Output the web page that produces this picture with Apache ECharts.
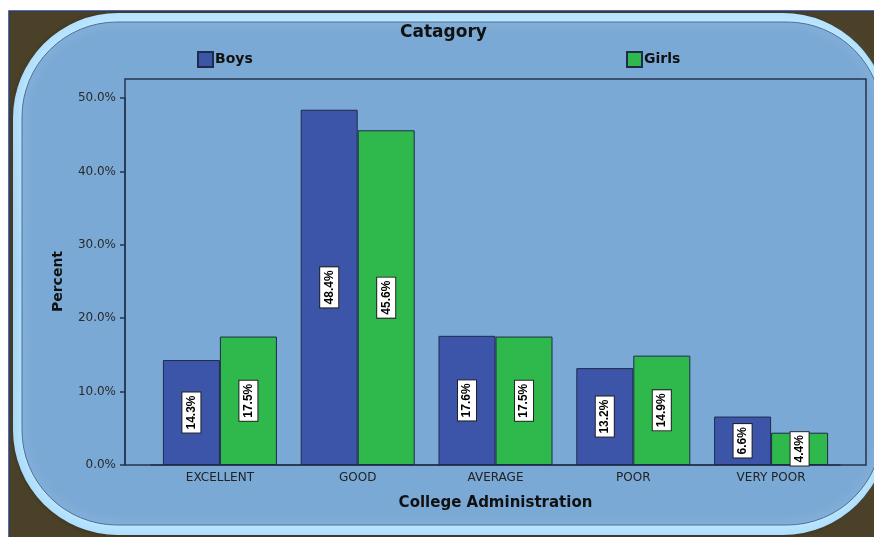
<!DOCTYPE html>
<html>
<head>
<meta charset="utf-8">
<script src="https://cdn.jsdelivr.net/npm/echarts@6/dist/echarts.min.js"></script>
<style>html,body{margin:0;padding:0;background:#fff}#c{width:874px;height:537px}</style>
</head>
<body>
<div id="c"></div>
<script>
const categories = ['EXCELLENT', 'GOOD', 'AVERAGE', 'POOR', 'VERY POOR'];
const boys = [14.3, 48.4, 17.6, 13.2, 6.6];
const girls = [17.5, 45.6, 17.5, 14.9, 4.4];
const yTicks = [0, 10, 20, 30, 40, 50];
const seriesNames = ['Boys', 'Girls'];

const chart = echarts.init(document.getElementById('c'), null, {renderer: 'canvas'});
const axisColor = '#26344d';
const labelFont = 'DejaVu Sans';

function barLabel() {
  return {
    show: true, position: 'inside', rotate: 90,
    formatter: p => p.value.toFixed(1) + '%',
    backgroundColor: '#ffffff', borderColor: '#222', borderWidth: 1,
    padding: [3, 3], fontSize: 12, fontWeight: 'bold',
    fontFamily: 'Liberation Sans Narrow, Liberation Sans, sans-serif', color: '#000'
  };
}

chart.setOption({
  animation: false,
  backgroundColor: '#ffffff',
  graphic: [
    {type: 'rect', z: -100, shape: {x: 9, y: 11, width: 870, height: 530}, style: {fill: '#4a4128', stroke: '#2b3c78', lineWidth: 1.5}},
    {type: 'rect', z: -99, shape: {x: 13, y: 13, width: 875, height: 522, r: 105},
     style: {fill: new echarts.graphic.LinearGradient(0, 0, 0, 1, [
       {offset: 0, color: '#b4e2ff'}, {offset: 0.5, color: '#9fd0f4'}, {offset: 1, color: '#b0e0ff'}]),
       shadowBlur: 4, shadowColor: 'rgba(0,0,0,0.4)'}},
    {type: 'rect', z: -98, shape: {x: 22, y: 22, width: 860, height: 503, r: 95},
     style: {fill: '#7ba9d5', stroke: '#4f7197', lineWidth: 1, shadowBlur: 10, shadowColor: '#c8eeff'}}
  ],
  title: {
    text: 'Catagory', left: 400, top: 24, padding: 0,
    textStyle: {fontFamily: labelFont, fontWeight: 'bold', fontSize: 17, color: '#111'}
  },
  legend: [
    {data: [seriesNames[0]], left: 197, top: 51, padding: 0, icon: 'rect', itemWidth: 15, itemHeight: 15,
     textStyle: {fontFamily: labelFont, fontWeight: 'bold', fontSize: 14, color: '#111', padding: [0, 0, 0, -3]}},
    {data: [seriesNames[1]], left: 626, top: 51, padding: 0, icon: 'rect', itemWidth: 15, itemHeight: 15,
     textStyle: {fontFamily: labelFont, fontWeight: 'bold', fontSize: 14, color: '#111', padding: [0, 0, 0, -3]}}
  ],
  grid: [
    {left: 151, right: 34, top: 98, bottom: 72},
    {left: 125, right: 8, top: 79, bottom: 72, show: true, borderColor: axisColor, borderWidth: 1.5, backgroundColor: 'transparent'}
  ],
  xAxis: [
    {type: 'category', gridIndex: 0, data: categories,
     axisLine: {lineStyle: {color: axisColor, width: 1.5}},
     axisTick: {alignWithLabel: true, length: 7, lineStyle: {color: axisColor, width: 1.5}},
     axisLabel: {margin: 7, color: '#222', fontSize: 12, fontFamily: labelFont},
     name: 'College Administration', nameLocation: 'middle', nameGap: 31,
     nameTextStyle: {fontFamily: labelFont, fontWeight: 'bold', fontSize: 15, color: '#111'}},
    {type: 'value', gridIndex: 1, show: false}
  ],
  yAxis: [
    {type: 'value', gridIndex: 0, min: yTicks[0], max: yTicks[yTicks.length - 1], interval: yTicks[1] - yTicks[0], offset: 26,
     axisLine: {show: true, lineStyle: {color: axisColor, width: 1.5}},
     axisTick: {show: true, length: 5, lineStyle: {color: axisColor, width: 1.5}},
     splitLine: {show: false},
     axisLabel: {formatter: v => v.toFixed(1) + '%', margin: 9, color: '#2a2a2a', fontSize: 12, fontFamily: labelFont},
     name: 'Percent', nameLocation: 'middle', nameGap: 60, nameRotate: 90,
     nameTextStyle: {fontFamily: labelFont, fontWeight: 'bold', fontSize: 14, color: '#111'}},
    {type: 'value', gridIndex: 1, show: false}
  ],
  series: [
    {name: seriesNames[0], type: 'bar', xAxisIndex: 0, yAxisIndex: 0, data: boys, barWidth: 57, barGap: '0%',
     itemStyle: {color: '#3d55a9', borderColor: '#1e2b4a', borderWidth: 1}, label: barLabel()},
    {name: seriesNames[1], type: 'bar', xAxisIndex: 0, yAxisIndex: 0, data: girls, barWidth: 57, barGap: '0%',
     itemStyle: {color: '#2fb84b', borderColor: '#1e2b4a', borderWidth: 1}, label: barLabel()}
  ]
});
</script>
</body>
</html>
